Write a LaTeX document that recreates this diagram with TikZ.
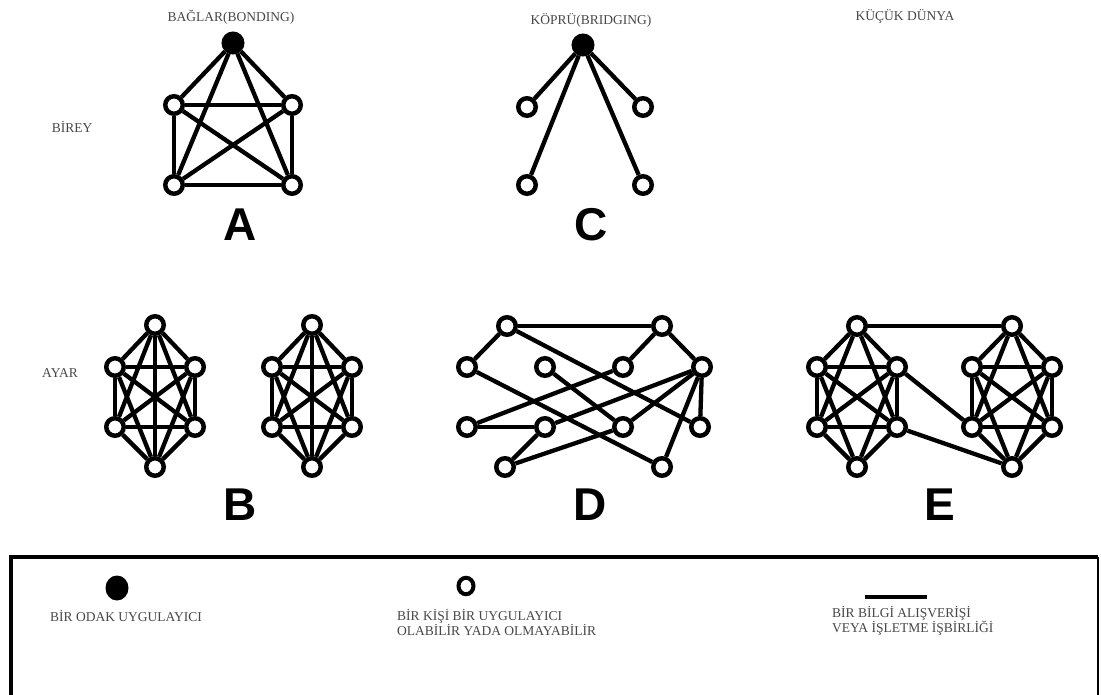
\documentclass[tikz,border=0pt]{standalone}
\usepackage{fontspec}
\setmainfont{Liberation Serif}
\newfontfamily\letterfont{Liberation Sans}
\usetikzlibrary{shapes.geometric}
\begin{document}
\begin{tikzpicture}[x=1pt,y=-1pt,
  actor/.style={circle,draw,line width=4.5pt,fill=white,minimum size=17.5pt,inner sep=0pt},
  focal/.style={circle,draw,fill=black,line width=1pt,minimum size=22pt,inner sep=0pt},
  tie/.style={line width=4.3pt},
  caption/.style={font=\fontsize{13.5}{15}\selectfont,text=black!72,inner sep=0pt},
  letter/.style={font=\letterfont\bfseries\fontsize{46}{46}\selectfont,inner sep=0pt}]
\useasboundingbox (0,0) rectangle (1101,695);

% ---------- row titles and column titles ----------
\node[caption] (tA) at (231,17) {BAĞLAR(BONDING)};
\node[caption] (tC) at (591,20) {KÖPRÜ(BRIDGING)};
\node[caption] (tE) at (905,16) {KÜÇÜK DÜNYA};
\node[caption] (rowI) at (72,127) {BİREY};
\node[caption] (rowS) at (60,373) {AYAR};

% ---------- A: bonding ----------
\node[focal] (Af) at (233,43) {};
\node[actor] (A1) at (174,105) {};
\node[actor] (A2) at (292,105) {};
\node[actor] (A3) at (174,185) {};
\node[actor] (A4) at (292,185) {};
\foreach \a/\b in {Af/A1,Af/A2,Af/A3,Af/A4,A1/A2,A1/A3,A2/A4,A3/A4,A1/A4,A2/A3}
  \draw[tie] (\a) -- (\b);
\node[letter] (lA) at (240,225) {A};

% ---------- C: bridging ----------
\node[focal] (Cf) at (583,45) {};
\node[actor] (C1) at (527,107) {};
\node[actor] (C2) at (643,107) {};
\node[actor] (C3) at (527,185) {};
\node[actor] (C4) at (643,185) {};
\foreach \b in {C1,C2,C3,C4}
  \draw[tie] (Cf) -- (\b);
\node[letter] (lC) at (591,225) {C};

% ---------- B: two closed clusters ----------
\foreach \p/\cx in {L/155,R/312}{
  \node[actor] (B\p1) at (\cx,325) {};
  \node[actor] (B\p2) at (\cx-40,367) {};
  \node[actor] (B\p3) at (\cx+40,367) {};
  \node[actor] (B\p4) at (\cx-40,427) {};
  \node[actor] (B\p5) at (\cx+40,427) {};
  \node[actor] (B\p6) at (\cx,467) {};
  \foreach \i/\j in {1/2,1/3,1/4,1/5,1/6,2/3,2/4,2/5,2/6,3/4,3/5,3/6,4/5,4/6,5/6}
    \draw[tie] (B\p\i) -- (B\p\j);
}
\node[letter] (lB) at (240,505) {B};

% ---------- D: loose network ----------
\node[actor] (D1) at (507,326) {};
\node[actor] (D2) at (662,326) {};
\node[actor] (D3) at (467,367) {};
\node[actor] (D4) at (545,367) {};
\node[actor] (D5) at (623,367) {};
\node[actor] (D6) at (702,367) {};
\node[actor] (D7) at (467,427) {};
\node[actor] (D8) at (545,427) {};
\node[actor] (D9) at (623,427) {};
\node[actor] (D10) at (700,427) {};
\node[actor] (D11) at (505,467) {};
\node[actor] (D12) at (662,467) {};
\foreach \a/\b in {D1/D2,D1/D3,D1/D10,D2/D5,D2/D6,D3/D12,D4/D9,D5/D7,D7/D8,
                   D8/D6,D8/D11,D11/D9,D9/D6,D6/D10,D6/D12}
  \draw[tie] (\a) -- (\b);
\node[letter] (lD) at (590,505) {D};

% ---------- E: small world ----------
\foreach \p/\cx in {L/857,R/1012}{
  \node[actor] (E\p1) at (\cx,326) {};
  \node[actor] (E\p2) at (\cx-40,367) {};
  \node[actor] (E\p3) at (\cx+40,367) {};
  \node[actor] (E\p4) at (\cx-40,427) {};
  \node[actor] (E\p5) at (\cx+40,427) {};
  \node[actor] (E\p6) at (\cx,467) {};
  \foreach \i/\j in {1/2,1/3,1/4,1/5,2/3,2/4,2/5,2/6,3/4,3/5,3/6,4/5,4/6,5/6}
    \draw[tie] (E\p\i) -- (E\p\j);
}
\draw[tie] (EL1) -- (ER1);
\draw[tie] (EL3) -- (ER4);
\draw[tie] (EL5) -- (ER6);
\node[letter] (lE) at (940,505) {E};

% ---------- legend ----------
\coordinate (boxTL) at (11,557);
\coordinate (boxTR) at (1098,557);
\coordinate (boxBL) at (11,695);
\coordinate (boxBR) at (1098,695);
\draw[line width=4pt] (9,557) -- (boxTR);
\draw[line width=3.5pt] (boxTL) -- (boxBL);
\draw[line width=2pt] (boxTR) -- (boxBR);

\node[ellipse,fill=black,minimum width=23pt,minimum height=25pt,inner sep=0pt] (kFocal) at (117,588) {};
\node[ellipse,draw,line width=4pt,minimum width=15pt,minimum height=16.5pt,inner sep=0pt] (kActor) at (466,586) {};
\coordinate (kTieA) at (865,597);
\coordinate (kTieB) at (927,597);
\draw[tie] (kTieA) -- (kTieB);

\node[caption,anchor=west] (kFocalT) at (50,616) {BİR ODAK UYGULAYICI};
\node[caption,anchor=west,align=left] (kActorT) at (397,622.5) {BİR KİŞİ BİR UYGULAYICI\\OLABİLİR YADA OLMAYABİLİR};
\node[caption,anchor=west,align=left] (kTieT) at (832,620.5) {BİR BİLGİ ALIŞVERİŞİ\\VEYA İŞLETME İŞBİRLİĞİ};
\end{tikzpicture}
\end{document}
